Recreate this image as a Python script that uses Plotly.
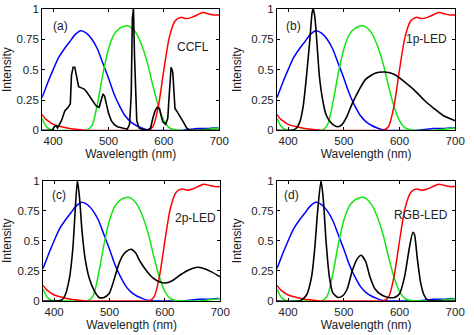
import plotly.graph_objects as go

# ---- data ----
wl_f = [380, 385, 390, 400, 410, 420, 430, 440, 450, 460, 470, 480, 490, 500, 510, 520, 530,
        540, 550, 560, 570, 580, 590, 600, 610, 620, 630, 640, 650, 660, 670, 680, 690, 700]
blue_f = [0.27, 0.33, 0.39, 0.50, 0.60, 0.67, 0.73, 0.79, 0.82, 0.80, 0.75, 0.67, 0.55, 0.43,
          0.30, 0.20, 0.12, 0.07, 0.04, 0.02, 0.005, 0.0, 0.0, 0.0, 0.0, 0.0, 0.0, 0.005, 0.01,
          0.015, 0.015, 0.015, 0.02, 0.02]
green_f = [0.10, 0.05, 0.02, 0.0, 0.0, 0.0, 0.0, 0.0, 0.0, 0.0, 0.04, 0.22, 0.47, 0.67, 0.79,
           0.84, 0.86, 0.85, 0.80, 0.70, 0.56, 0.37, 0.20, 0.08, 0.02, 0.005, 0.0, 0.0, 0.0,
           0.0, 0.005, 0.01, 0.015, 0.02]
red_f = [0.13, 0.10, 0.08, 0.05, 0.035, 0.025, 0.015, 0.01, 0.005, 0.0, 0.0, 0.0, 0.0, 0.0,
         0.0, 0.0, 0.0, 0.0, 0.0, 0.0, 0.0, 0.03, 0.20, 0.50, 0.77, 0.90, 0.93, 0.92, 0.93,
         0.95, 0.97, 0.96, 0.95, 0.95]

wl_ccfl = [380, 398, 402, 405, 408, 415, 421, 427, 431, 433, 436, 439, 442, 446, 451, 456,
           460, 466, 472, 478, 483, 487, 490, 493, 496, 500, 505, 510, 516, 525, 534, 538, 541,
           543, 545, 547, 549, 551, 555, 560, 570, 576, 580, 584, 588, 592, 595, 598, 603,
           607, 609, 611, 613, 616, 618, 620, 623, 626, 629, 635, 641, 647, 700]
ccfl = [0.0, 0.0, 0.03, 0.04, 0.02, 0.08, 0.16, 0.19, 0.22, 0.45, 0.52, 0.52, 0.45, 0.36,
        0.35, 0.34, 0.32, 0.28, 0.24, 0.20, 0.19, 0.26, 0.30, 0.28, 0.21, 0.14, 0.08, 0.05,
        0.03, 0.02, 0.01, 0.05, 0.30, 0.92, 1.0, 0.60, 0.25, 0.08, 0.02, 0.01, 0.0, 0.02,
        0.10, 0.16, 0.19, 0.18, 0.12, 0.07, 0.05, 0.10, 0.25, 0.42, 0.52, 0.48, 0.30, 0.18,
        0.16, 0.14, 0.12, 0.07, 0.02, 0.0, 0.0]

wl_1p = [380, 405, 410, 415, 421, 427, 433, 439, 443, 445, 448, 452, 456, 462, 468, 474, 480,
         489, 497, 506, 515, 527, 539, 556, 574, 591, 609, 627, 644, 662, 679, 700]
led_1p = [0.0, 0.0, 0.005, 0.02, 0.07, 0.2, 0.45, 0.75, 0.97, 1.0, 0.93, 0.7, 0.45, 0.25,
          0.13, 0.08, 0.05, 0.03, 0.05, 0.12, 0.22, 0.33, 0.42, 0.47, 0.48, 0.46, 0.40, 0.33,
          0.25, 0.18, 0.12, 0.08]

wl_2p = [380, 402, 414, 420, 428, 434, 438, 442, 446, 450, 456, 464, 473, 481, 490, 499,
         505, 511, 517, 523, 530, 539, 547, 555, 567, 579, 590, 602, 614, 629, 644, 658, 670,
         685, 700]
led_2p = [0.0, 0.0, 0.01, 0.05, 0.2, 0.45, 0.75, 1.0, 0.85, 0.6, 0.35, 0.18, 0.08, 0.03,
          0.03, 0.06, 0.13, 0.22, 0.31, 0.37, 0.41, 0.43, 0.40, 0.33, 0.25, 0.19, 0.16, 0.15,
          0.17, 0.22, 0.26, 0.28, 0.27, 0.24, 0.20]

wl_rgb = [380, 418, 424, 433, 442, 448, 453, 459, 463, 468, 474, 480, 489, 497, 506, 515,
          524, 531, 539, 547, 556, 568, 580, 591, 600, 609, 618, 624, 627, 632, 638, 644, 650,
          662, 700]
led_rgb = [0.0, 0.0, 0.01, 0.05, 0.2, 0.45, 0.75, 1.0, 0.85, 0.5, 0.2, 0.07, 0.03, 0.04,
           0.1, 0.25, 0.35, 0.38, 0.33, 0.2, 0.1, 0.05, 0.03, 0.03, 0.06, 0.2, 0.45, 0.57,
           0.55, 0.35, 0.15, 0.05, 0.01, 0.0, 0.0]

panel_tags = ["(a)", "(b)", "(c)", "(d)"]
panel_names = ["CCFL", "1p-LED", "2p-LED", "RGB-LED"]
x_ticks = [400, 500, 600, 700]
y_ticks = [0, 0.25, 0.5, 0.75, 1]
y_tick_text = ["0", "0.25", "0.5", "0.75", "1"]

# ---- layout geometry ----
W, H = 474, 335
doms = [
    ((43 / W, 224 / W), (1 - 129 / H, 1 - 3 / H)),
    ((283 / W, 465 / W), (1 - 129 / H, 1 - 3 / H)),
    ((44 / W, 225 / W), (1 - 306 / H, 1 - 181 / H)),
    ((283 / W, 465 / W), (1 - 306 / H, 1 - 181 / H)),
]
tag_pos = [(414, 0.86), (410, 0.86), (408, 0.88), (406, 0.88)]
name_pos = [(652, 0.69), (649, 0.75), (656, 0.69), (638, 0.71)]
spectra = [(wl_ccfl, ccfl, "linear"), (wl_1p, led_1p, "spline"),
           (wl_2p, led_2p, "spline"), (wl_rgb, led_rgb, "spline")]

FONT = "Liberation Sans, Arial, sans-serif"
fig = go.Figure()
annotations = []
for i in range(4):
    s = "" if i == 0 else str(i + 1)
    xa, ya = "x" + s, "y" + s
    for yv, col in [(blue_f, "#0000ff"), (green_f, "#11e611"), (red_f, "#ff0000")]:
        fig.add_trace(go.Scatter(x=wl_f, y=yv, mode="lines", xaxis=xa, yaxis=ya,
                                 line=dict(color=col, width=1.5, shape="spline", smoothing=0.8),
                                 showlegend=False, hoverinfo="skip"))
    wx, wy, shp = spectra[i]
    fig.add_trace(go.Scatter(x=wx, y=wy, mode="lines", xaxis=xa, yaxis=ya,
                             line=dict(color="black", width=1.6, shape=shp, smoothing=0.6),
                             showlegend=False, hoverinfo="skip"))
    xd, yd = doms[i]
    axis_common = dict(showline=True, linecolor="black", linewidth=1, mirror="allticks",
                       ticks="inside", ticklen=3, tickcolor="black", showgrid=False,
                       zeroline=False, tickfont=dict(family=FONT, size=11.5, color="#222"))
    fig.update_layout(**{
        ("xaxis" + s): dict(domain=xd, range=[380, 700], tickvals=x_ticks,
                            anchor=ya,
                            title=dict(text="Wavelength (nm)", standoff=1,
                                       font=dict(family=FONT, size=12, color="#222")),
                            **axis_common),
        ("yaxis" + s): dict(domain=yd, range=[0, 1], tickvals=y_ticks, ticktext=y_tick_text,
                            anchor=xa,
                            title=dict(text="Intensity", standoff=7,
                                       font=dict(family=FONT, size=12, color="#222")),
                            **axis_common),
    })
    annotations.append(dict(x=tag_pos[i][0], y=tag_pos[i][1], xref=xa, yref=ya,
                            text=panel_tags[i], showarrow=False,
                            font=dict(family=FONT, size=12, color="#222")))
    annotations.append(dict(x=name_pos[i][0], y=name_pos[i][1], xref=xa, yref=ya,
                            text=panel_names[i], showarrow=False,
                            font=dict(family=FONT, size=12, color="#222")))

fig.update_layout(width=W, height=H, margin=dict(l=0, r=0, t=0, b=0),
                  paper_bgcolor="white", plot_bgcolor="white",
                  annotations=annotations, showlegend=False)
fig.write_html("out.html")
